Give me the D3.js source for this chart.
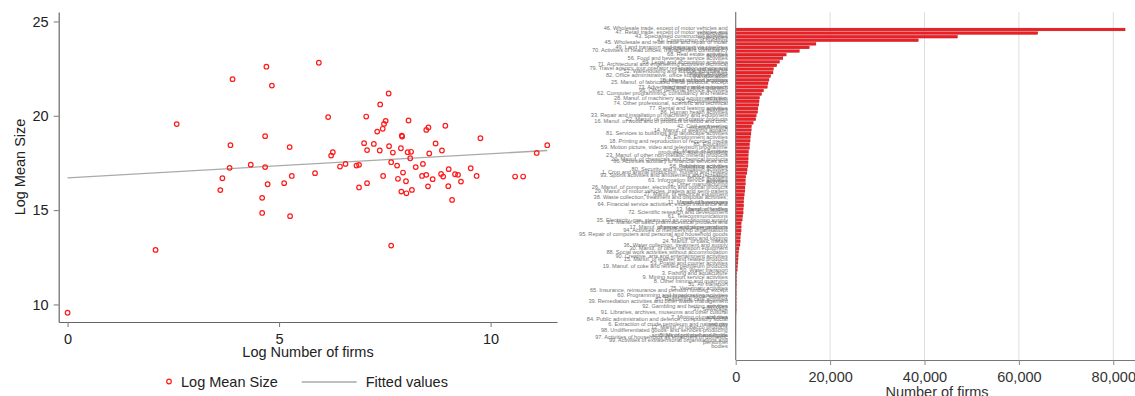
<!DOCTYPE html>
<html>
<head>
<meta charset="utf-8">
<script src="https://cdn.jsdelivr.net/npm/d3@7"></script>
<style>
  body { margin: 0; background: #fff; }
  svg { display: block; font-family: "Liberation Sans", Arial, sans-serif; }
</style>
</head>
<body>
<div id="chart"></div>
<script>
// left panel: log number of firms vs log mean size, one point per sector
const logFirms = [3.90, 4.70, 4.83, 2.58, 3.85, 4.67, 3.83, 4.33, 4.67, 3.66, 4.73, 3.61, 4.60, 4.60, 2.08, 0.00,
  5.12, 5.26, 5.94, 7.65, 7.59, 7.39, 6.16, 7.06, 8.06, 7.52, 7.48, 7.45, 7.32, 8.48, 8.53, 8.93, 7.90, 9.76,
  5.25, 7.01, 7.24, 7.60, 7.88, 8.70, 7.08, 7.38, 7.69, 8.04, 8.12, 8.85, 8.55, 8.10, 6.27, 6.23, 11.34, 11.09,
  7.65, 8.40, 6.57, 6.44, 6.83, 6.89, 7.79, 8.23, 7.93, 5.85, 5.30, 7.46, 7.81, 8.00, 8.38, 8.48, 8.63, 8.83,
  8.88, 9.01, 9.16, 9.23, 9.30, 9.53, 9.67, 10.58, 10.77, 6.89, 7.08, 7.89, 8.01, 8.14, 8.52, 9.00, 9.09, 7.91];
const logMeanSize = [21.94, 22.60, 21.60, 19.56, 18.44, 18.92, 17.24, 17.41, 17.28, 16.69, 16.37, 16.06, 15.65, 14.85, 12.89, 9.56,
  16.43, 14.68, 22.81, 13.12, 21.18, 20.60, 19.93, 19.96, 19.75, 19.73, 19.57, 19.31, 19.16, 19.25, 19.38, 19.47, 18.95, 18.81,
  18.34, 18.55, 18.51, 18.39, 18.28, 18.53, 18.18, 18.16, 18.05, 18.07, 18.09, 18.16, 18.00, 17.75, 18.07, 17.89, 18.44, 18.03,
  17.54, 17.45, 17.45, 17.31, 17.36, 17.40, 17.36, 17.28, 16.99, 16.96, 16.81, 16.81, 16.66, 16.53, 16.81, 16.87, 16.64, 16.92,
  16.78, 17.17, 16.90, 16.87, 16.51, 17.22, 16.81, 16.78, 16.78, 16.20, 16.43, 15.98, 15.89, 16.07, 16.26, 16.27, 15.54, 18.90];
// fitted line end points
const fitX = [0, 11.34];
const fitY = [16.71, 18.16];
const xTicksLeft = [0, 5, 10];
const yTicksLeft = [10, 15, 20, 25];

// right panel: number of firms by sector
const sectors = [
  "46. Wholesale trade, except of motor vehicles and motorcycles",
  "47. Retail trade, except of motor vehicles and motorcycles",
  "43. Specialised construction activities",
  "41. Construction of buildings",
  "45. Wholesale and retail trade and repair of motor vehicles and motorcycles",
  "49. Land transport and transport via pipelines",
  "70. Activities of head offices; management consultancy activities",
  "68. Real estate activities",
  "56. Food and beverage service activities",
  "69. Legal and accounting activities",
  "71. Architectural and engineering activities; technical testing and analysis",
  "79. Travel agency, tour operator reservation service and related activities",
  "52. Warehousing and support activities for transportation",
  "82. Office administrative, office support and other business support activities",
  "10. Manuf. of food products",
  "25. Manuf. of fabricated metal products, except machinery and equipment",
  "73. Advertising and market research",
  "96. Other personal service activities",
  "62. Computer programming, consultancy and related activities",
  "28. Manuf. of machinery and equipment n.e.c.",
  "55. Accommodation",
  "74. Other professional, scientific and technical activities",
  "77. Rental and leasing activities",
  "86. Human health activities",
  "33. Repair and installation of machinery and equipment",
  "22. Manuf. of rubber and plastic products",
  "16. Manuf. of wood and of products of wood and cork, except furniture",
  "42. Civil engineering",
  "14. Manuf. of wearing apparel",
  "81. Services to buildings and landscape activities",
  "78. Employment activities",
  "18. Printing and reproduction of recorded media",
  "85. Education",
  "59. Motion picture, video and television programme production, sound recording",
  "31. Manuf. of furniture",
  "23. Manuf. of other non-metallic mineral products",
  "20. Manuf. of chemicals and chemical products",
  "66. Activities auxiliary to financial services and insurance activities",
  "58. Publishing activities",
  "80. Security and investigation activities",
  "1. Crop and animal production, hunting and related service activities",
  "93. Sports activities and amusement and recreation activities",
  "63. Information service activities",
  "32. Other manufacturing",
  "26. Manuf. of computer, electronic and optical products",
  "29. Manuf. of motor vehicles, trailers and semi-trailers",
  "27. Manuf. of electrical equipment",
  "38. Waste collection, treatment and disposal activities; materials recovery",
  "11. Manuf. of beverages",
  "64. Financial service activities, except insurance and pension funding",
  "13. Manuf. of textiles",
  "72. Scientific research and development",
  "61. Telecommunications",
  "35. Electricity, gas, steam and air conditioning supply",
  "21. Manuf. of basic pharmaceutical products and pharmaceutical preparations",
  "17. Manuf. of paper and paper products",
  "94. Activities of membership organisations",
  "95. Repair of computers and personal and household goods",
  "2. Forestry and logging",
  "24. Manuf. of basic metals",
  "36. Water collection, treatment and supply",
  "30. Manuf. of other transport equipment",
  "88. Social work activities without accommodation",
  "90. Creative, arts and entertainment activities",
  "15. Manuf. of leather and related products",
  "53. Postal and courier activities",
  "19. Manuf. of coke and refined petroleum products",
  "50. Water transport",
  "3. Fishing and aquaculture",
  "9. Mining support service activities",
  "8. Other mining and quarrying",
  "51. Air transport",
  "75. Veterinary activities",
  "65. Insurance, reinsurance and pension funding, except compulsory social security",
  "60. Programming and broadcasting activities",
  "87. Residential care activities",
  "39. Remediation activities and other waste management services",
  "92. Gambling and betting activities",
  "37. Sewerage",
  "91. Libraries, archives, museums and other cultural activities",
  "7. Mining of metal ores",
  "84. Public administration and defence; compulsory social security",
  "6. Extraction of crude petroleum and natural gas",
  "12. Manuf. of tobacco products",
  "98. Undifferentiated goods- and services-producing activities of private households",
  "5. Mining of coal and lignite",
  "97. Activities of households as employers of domestic personnel",
  "99. Activities of extraterritorial organisations and bodies"
];
const firms = [82500, 64000, 47000, 38700, 17000, 15600, 13500, 10700, 10000, 9300, 8700, 8000, 7900, 7400,
  7050, 6850, 6700, 5900, 5500, 5050, 4950, 4900, 4700, 4650, 4350, 4250, 3700, 3350, 3300, 3230, 3100, 3050,
  2950, 2920, 2720, 2670, 2640, 2620, 2590, 2420, 2370, 2140, 2060, 2050, 1960, 1940, 1810, 1740, 1700, 1690,
  1590, 1570, 1480, 1370, 1165, 1160, 1140, 1085, 960, 955, 905, 700, 615, 518, 497, 463, 372, 340, 196, 188,
  186, 164, 123, 111, 108, 104, 103, 98, 97, 74, 48, 46, 45, 38, 36, 13, 8, 1];
const xTicksRight = [0, 20000, 40000, 60000, 80000];

const W = 1135, H = 396;
const svg = d3.select("#chart").append("svg").attr("width", W).attr("height", H);

// ---------- left scatter ----------
const x1 = d3.scaleLinear().domain([-0.21, 11.57]).range([58.7, 557]);
const y1 = d3.scaleLinear().domain([9.07, 25.5]).range([322, 12]);

const left = svg.append("g");

const gx1 = left.append("g")
  .attr("transform", "translate(0,322)")
  .call(d3.axisBottom(x1).tickValues(xTicksLeft).tickSize(5).tickPadding(7).tickSizeOuter(0));
const gy1 = left.append("g")
  .attr("transform", "translate(58.7,0)")
  .call(d3.axisLeft(y1).tickValues(yTicksLeft).tickSize(5).tickPadding(5).tickSizeOuter(0));
[gx1, gy1].forEach(g => {
  g.select(".domain").attr("stroke", "#666").attr("stroke-width", 1.2);
  g.selectAll(".tick line").attr("stroke", "#777");
  g.selectAll(".tick text").attr("fill", "#222").style("font-size", "14.5px")
    .style("font-family", "'Liberation Sans', Arial, sans-serif");
});

left.append("line")
  .attr("x1", x1(fitX[0])).attr("y1", y1(fitY[0]))
  .attr("x2", x1(fitX[1])).attr("y2", y1(fitY[1]))
  .attr("stroke", "#aaa").attr("stroke-width", 1.3);

left.selectAll("circle.pt")
  .data(logFirms)
  .enter()
  .append("circle")
  .attr("class", "pt")
  .attr("cx", d => x1(d))
  .attr("cy", (d, i) => y1(logMeanSize[i]))
  .attr("r", 2.3)
  .attr("fill", "none")
  .attr("stroke", "#ff1a1a")
  .attr("stroke-width", 1.2);

left.append("text")
  .attr("transform", "translate(25,167) rotate(-90)")
  .attr("text-anchor", "middle")
  .style("font-size", "14.5px").attr("fill", "#222")
  .text("Log Mean Size");
left.append("text")
  .attr("x", 308).attr("y", 357)
  .attr("text-anchor", "middle")
  .style("font-size", "14.5px").attr("fill", "#222")
  .text("Log Number of firms");

// legend
left.append("circle").attr("cx", 169).attr("cy", 381.5).attr("r", 2.3)
  .attr("fill", "none").attr("stroke", "#ff1a1a").attr("stroke-width", 1.2);
left.append("text").attr("x", 181).attr("y", 387)
  .style("font-size", "14.5px").attr("fill", "#222").text("Log Mean Size");
left.append("line").attr("x1", 301.7).attr("x2", 356.7).attr("y1", 382).attr("y2", 382)
  .attr("stroke", "#aaa").attr("stroke-width", 1.3);
left.append("text").attr("x", 365.7).attr("y", 387)
  .style("font-size", "14.5px").attr("fill", "#222").text("Fitted values");

// ---------- right bars ----------
const x2 = d3.scaleLinear().domain([0, 84600]).range([735.7, 1135]);
const y2 = d3.scaleBand().domain(sectors).range([27.3, 27.3 + sectors.length * 3.6]).padding(0.22);

const right = svg.append("g");

right.selectAll("line.grid")
  .data(xTicksRight.slice(1))
  .enter()
  .append("line")
  .attr("class", "grid")
  .attr("x1", d => x2(d)).attr("x2", d => x2(d))
  .attr("y1", 12).attr("y2", 360)
  .attr("stroke", "#dedede").attr("stroke-width", 1);

right.selectAll("rect.bar")
  .data(firms)
  .enter()
  .append("rect")
  .attr("class", "bar")
  .attr("x", x2(0))
  .attr("y", (d, i) => y2(sectors[i]))
  .attr("width", d => x2(d) - x2(0))
  .attr("height", y2.bandwidth())
  .attr("fill", "#ec1f27")
  .attr("stroke", "#a81414")
  .attr("stroke-width", 0.3);

const gx2 = right.append("g")
  .attr("transform", "translate(0,360)")
  .call(d3.axisBottom(x2).tickValues(xTicksRight).tickFormat(d3.format(",")).tickSize(5).tickPadding(7).tickSizeOuter(0));
gx2.select(".domain").attr("stroke", "#777").attr("stroke-width", 1.2);
gx2.selectAll(".tick line").attr("stroke", "#888");
gx2.selectAll(".tick text").attr("fill", "#333").style("font-size", "14.5px")
  .style("font-family", "'Liberation Sans', Arial, sans-serif");

right.append("line")
  .attr("x1", x2(0)).attr("x2", x2(0)).attr("y1", 12).attr("y2", 360)
  .attr("stroke", "#777").attr("stroke-width", 1.2);

// sector labels: tiny and squeezed like the Stata original; only the longest wrap
const gy2 = right.append("g")
  .attr("transform", `translate(${x2(0)},0)`)
  .call(d3.axisLeft(y2).tickSize(0).tickPadding(8));
gy2.select(".domain").remove();
gy2.selectAll(".tick text")
  .attr("fill", "#747474")
  .style("font-size", "5.6px")
  .style("font-family", "'Liberation Sans', Arial, sans-serif")
  .each(function (d) {
    const t = d3.select(this);
    if (d.length <= 56) return;
    const words = d.split(" ");
    let a = "", b = "";
    words.forEach(w => {
      if (!b && (a + " " + w).length <= 56) a = a ? a + " " + w : w;
      else b = b ? b + " " + w : w;
    });
    const x = t.attr("x");
    t.text(null).attr("dy", null);
    t.append("tspan").attr("x", x).attr("dy", "0.1em").text(a);
    t.append("tspan").attr("x", x).attr("dy", "0.95em").text(b);
  });

right.append("text")
  .attr("x", 937).attr("y", 397)
  .attr("text-anchor", "middle")
  .style("font-size", "14.5px").attr("fill", "#333")
  .text("Number of firms");
</script>
</body>
</html>
